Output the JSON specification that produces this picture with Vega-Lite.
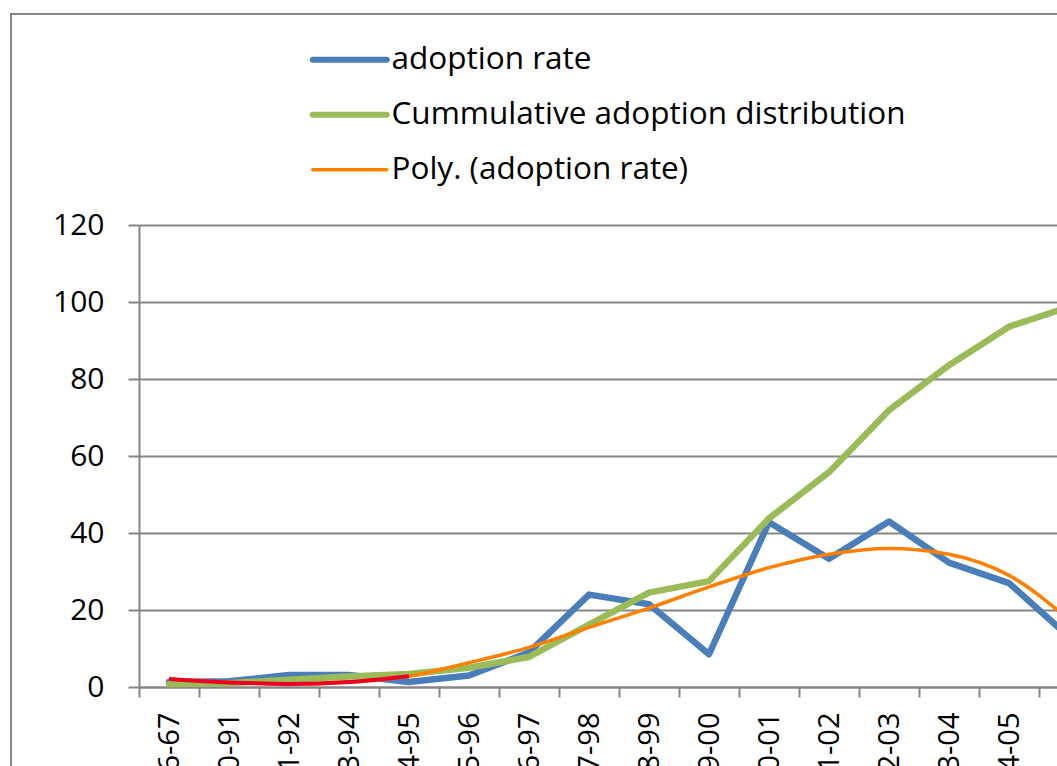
{
  "$schema": "https://vega.github.io/schema/vega-lite/v6.json",
  "width": 1100,
  "height": 800,
  "autosize": {"type": "none"},
  "padding": {"left": 11, "top": 14, "right": 0, "bottom": 0},
  "background": "white",
  "config": {
    "view": {"stroke": "#868686", "strokeWidth": 2},
    "font": "Open Sans",
    "axis": {"labelFont": "Open Sans", "labelColor": "#000000", "domainColor": "#868686", "domainWidth": 2, "tickColor": "#868686", "tickWidth": 2, "gridColor": "#868686", "gridWidth": 2}
  },
  "data": {
    "values": [
      {"year": "1966-67", "series": "adoption rate", "value": 1.3},
      {"year": "1990-91", "series": "adoption rate", "value": 1.5},
      {"year": "1991-92", "series": "adoption rate", "value": 3.1},
      {"year": "1993-94", "series": "adoption rate", "value": 3.1},
      {"year": "1994-95", "series": "adoption rate", "value": 1.3},
      {"year": "1995-96", "series": "adoption rate", "value": 3},
      {"year": "1996-97", "series": "adoption rate", "value": 9},
      {"year": "1997-98", "series": "adoption rate", "value": 24},
      {"year": "1998-99", "series": "adoption rate", "value": 21.5},
      {"year": "1999-00", "series": "adoption rate", "value": 8.5},
      {"year": "2000-01", "series": "adoption rate", "value": 42.8},
      {"year": "2001-02", "series": "adoption rate", "value": 33.3},
      {"year": "2002-03", "series": "adoption rate", "value": 43},
      {"year": "2003-04", "series": "adoption rate", "value": 32.3},
      {"year": "2004-05", "series": "adoption rate", "value": 27},
      {"year": "2005-06", "series": "adoption rate", "value": 13},
      {"year": "1966-67", "series": "Cummulative adoption distribution", "value": 0.7},
      {"year": "1990-91", "series": "Cummulative adoption distribution", "value": 1},
      {"year": "1991-92", "series": "Cummulative adoption distribution", "value": 1.9},
      {"year": "1993-94", "series": "Cummulative adoption distribution", "value": 2.7},
      {"year": "1994-95", "series": "Cummulative adoption distribution", "value": 3.4},
      {"year": "1995-96", "series": "Cummulative adoption distribution", "value": 5},
      {"year": "1996-97", "series": "Cummulative adoption distribution", "value": 7.8},
      {"year": "1997-98", "series": "Cummulative adoption distribution", "value": 16.2},
      {"year": "1998-99", "series": "Cummulative adoption distribution", "value": 24.5},
      {"year": "1999-00", "series": "Cummulative adoption distribution", "value": 27.5},
      {"year": "2000-01", "series": "Cummulative adoption distribution", "value": 43.8},
      {"year": "2001-02", "series": "Cummulative adoption distribution", "value": 55.8},
      {"year": "2002-03", "series": "Cummulative adoption distribution", "value": 71.9},
      {"year": "2003-04", "series": "Cummulative adoption distribution", "value": 83.6},
      {"year": "2004-05", "series": "Cummulative adoption distribution", "value": 93.6},
      {"year": "2005-06", "series": "Cummulative adoption distribution", "value": 98.7},
      {"year": "1966-67", "series": "Poly. (adoption rate)", "value": 2.1},
      {"year": "1990-91", "series": "Poly. (adoption rate)", "value": 1.2},
      {"year": "1991-92", "series": "Poly. (adoption rate)", "value": 0.8},
      {"year": "1993-94", "series": "Poly. (adoption rate)", "value": 1.3},
      {"year": "1994-95", "series": "Poly. (adoption rate)", "value": 2.8},
      {"year": "1995-96", "series": "Poly. (adoption rate)", "value": 6.3},
      {"year": "1996-97", "series": "Poly. (adoption rate)", "value": 10.3},
      {"year": "1997-98", "series": "Poly. (adoption rate)", "value": 15.5},
      {"year": "1998-99", "series": "Poly. (adoption rate)", "value": 20.5},
      {"year": "1999-00", "series": "Poly. (adoption rate)", "value": 26},
      {"year": "2000-01", "series": "Poly. (adoption rate)", "value": 31},
      {"year": "2001-02", "series": "Poly. (adoption rate)", "value": 34.5},
      {"year": "2002-03", "series": "Poly. (adoption rate)", "value": 36},
      {"year": "2003-04", "series": "Poly. (adoption rate)", "value": 34.5},
      {"year": "2004-05", "series": "Poly. (adoption rate)", "value": 29},
      {"year": "2005-06", "series": "Poly. (adoption rate)", "value": 17.5}
    ]
  },
  "encoding": {
    "x": {
      "field": "year",
      "type": "ordinal",
      "sort": null,
      "scale": {"type": "band", "range": [128, 1088], "paddingInner": 0, "paddingOuter": 0},
      "axis": {"title": null, "orient": "bottom", "offset": -127, "tickSize": 10, "tickBand": "extent", "grid": false, "labelAngle": 270, "labelAlign": "right", "labelBaseline": "middle", "labelFontSize": 29, "labelPadding": 15, "labelOverlap": false}
    },
    "y": {
      "field": "value",
      "type": "quantitative",
      "scale": {"domain": [0, 120], "range": [673, 211], "nice": false, "zero": true},
      "axis": {"title": null, "orient": "left", "offset": -128, "values": [0, 20, 40, 60, 80, 100, 120], "tickSize": 11, "grid": true, "labelFontSize": 30, "labelPadding": 24}
    }
  },
  "layer": [
    {
      "transform": [{"filter": {"field": "series", "oneOf": ["adoption rate", "Cummulative adoption distribution"]}}],
      "mark": {"type": "line", "strokeWidth": 6.5, "strokeJoin": "round", "strokeCap": "round"},
      "encoding": {
        "color": {
          "field": "series",
          "type": "nominal",
          "scale": {"domain": ["adoption rate", "Cummulative adoption distribution", "Poly. (adoption rate)"], "range": ["#4a7ebb", "#9bbb59", "#ff8000"]},
          "legend": {
            "title": null,
            "orient": "none",
            "legendX": 323,
            "legendY": 30,
            "padding": 0,
            "symbolType": "stroke",
            "symbolSize": 5476,
            "symbolStrokeWidth": 6,
            "labelFontSize": 31.5,
            "labelColor": "#000000",
            "labelOffset": 26,
            "rowPadding": 22,
            "labelLimit": 1000,
            "encode": {"symbols": {"update": {"strokeWidth": {"signal": "datum.value === 'Poly. (adoption rate)' ? 3.5 : 6"}, "strokeCap": {"value": "round"}}}}
          }
        }
      }
    },
    {
      "transform": [{"filter": {"field": "series", "equal": "Poly. (adoption rate)"}}],
      "mark": {"type": "line", "strokeWidth": 3.5, "interpolate": "monotone"},
      "encoding": {"color": {"field": "series", "type": "nominal"}}
    },
    {
      "transform": [
        {"filter": {"field": "series", "equal": "Poly. (adoption rate)"}},
        {"filter": {"field": "year", "oneOf": ["1966-67", "1990-91", "1991-92", "1993-94", "1994-95"]}}
      ],
      "mark": {"type": "line", "strokeWidth": 4, "interpolate": "monotone", "color": "#ec0020"},
      "encoding": {}
    }
  ]
}
